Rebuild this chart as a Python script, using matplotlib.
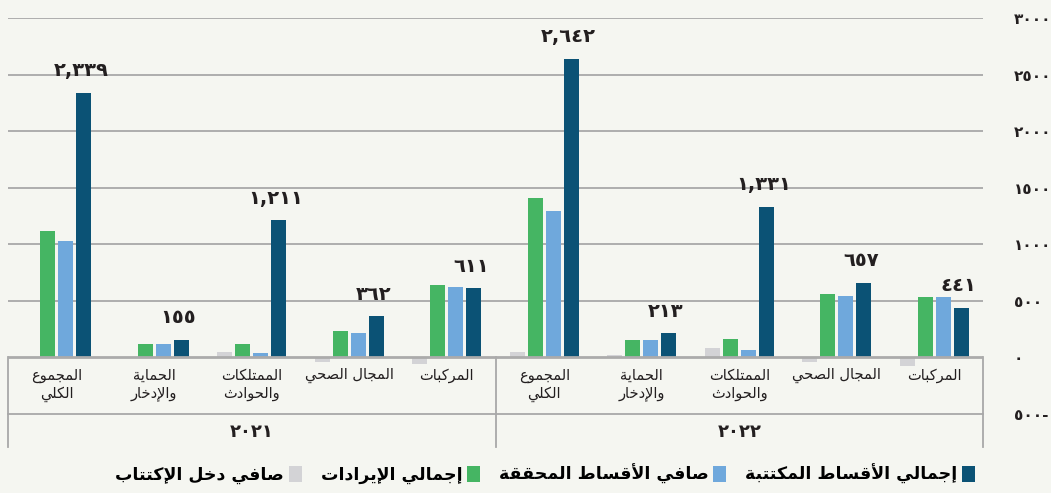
import matplotlib
matplotlib.use("Agg")
import matplotlib.pyplot as plt
from matplotlib.patches import Patch
from matplotlib.ticker import FuncFormatter
import numpy as np

# ── Data ───────────────────────────────────────────────
years = ["٢٠٢١", "٢٠٢٢"]
categories = ["المجموع\nالكلي", "الحماية\nوالإدخار", "الممتلكات\nوالحوادث",
              "المجال الصحي", "المركبات"]

series_names = ["صافي دخل الإكتتاب", "إجمالي الإيرادات",
                "صافي الأقساط المحققة", "إجمالي الأقساط المكتتبة"]

net_uw_income = [0, 0, 49, -37, -55,
                 49, 22, 84, -37, -72]
total_revenue = [1118, 119, 119, 234, 641,
                 1409, 155, 163, 561, 530]
net_earned = [1029, 119, 40, 216, 623,
              1294, 155, 66, 543, 530]
gross_written = [2339, 155, 1211, 362, 611,
                 2642, 213, 1331, 657, 441]

yticks = [-500, 0, 500, 1000, 1500, 2000, 2500, 3000]

# ── Style ──────────────────────────────────────────────
BG = "#f5f6f1"
COLORS = ["#d3d3d6", "#45b563", "#6fa8dc", "#0b5275"]
GRID = "#a8a8a8"
TXT = "#231f20"

AR_DIGITS = str.maketrans("0123456789", "٠١٢٣٤٥٦٧٨٩")

# minimal Arabic shaping (matplotlib has no complex text layout)
FORMS = {
    "ء": (0xFE80, 1), "آ": (0xFE81, 2), "أ": (0xFE83, 2), "ؤ": (0xFE85, 2),
    "إ": (0xFE87, 2), "ئ": (0xFE89, 4), "ا": (0xFE8D, 2), "ب": (0xFE8F, 4),
    "ة": (0xFE93, 2), "ت": (0xFE95, 4), "ث": (0xFE99, 4), "ج": (0xFE9D, 4),
    "ح": (0xFEA1, 4), "خ": (0xFEA5, 4), "د": (0xFEA9, 2), "ذ": (0xFEAB, 2),
    "ر": (0xFEAD, 2), "ز": (0xFEAF, 2), "س": (0xFEB1, 4), "ش": (0xFEB5, 4),
    "ص": (0xFEB9, 4), "ض": (0xFEBD, 4), "ط": (0xFEC1, 4), "ظ": (0xFEC5, 4),
    "ع": (0xFEC9, 4), "غ": (0xFECD, 4), "ف": (0xFED1, 4), "ق": (0xFED5, 4),
    "ك": (0xFED9, 4), "ل": (0xFEDD, 4), "م": (0xFEE1, 4), "ن": (0xFEE5, 4),
    "ه": (0xFEE9, 4), "و": (0xFEED, 2), "ى": (0xFEEF, 2), "ي": (0xFEF1, 4),
}
LAM_ALEF = {"آ": 0xFEF5, "أ": 0xFEF7, "إ": 0xFEF9, "ا": 0xFEFB}


def shape_line(s):
    toks = []
    i = 0
    while i < len(s):
        ch = s[i]
        if ch == "ل" and i + 1 < len(s) and s[i + 1] in LAM_ALEF:
            toks.append((LAM_ALEF[s[i + 1]], 2))
            i += 2
            continue
        if ch in FORMS:
            toks.append(FORMS[ch])
        else:
            toks.append((ch, 0))
        i += 1
    out = []
    for k, (base, n) in enumerate(toks):
        if n == 0:
            out.append(base)
            continue
        prev = toks[k - 1] if k > 0 else (None, 0)
        nxt = toks[k + 1] if k + 1 < len(toks) else (None, 0)
        jp = n >= 2 and prev[1] == 4
        jn = n == 4 and nxt[1] >= 2
        if jp and jn:
            idx = 3
        elif jp:
            idx = 1
        elif jn:
            idx = 2
        else:
            idx = 0
        out.append(chr(base + idx))
    return "".join(out)[::-1]


def ar(s):
    return "\n".join(shape_line(line) for line in s.split("\n"))


def ar_num(v, sep=True):
    s = (f"{abs(int(v)):,}" if sep else str(abs(int(v)))).translate(AR_DIGITS)
    return s + "-" if v < 0 else s


plt.rcParams["font.family"] = ["DejaVu Sans"]

fig = plt.figure(figsize=(10.51, 4.93), dpi=100, facecolor=BG)
# plot area: x 8..983 px, y 18..414 px (3000 .. -500)
ax = fig.add_axes([8 / 1051, (493 - 414) / 493, 975 / 1051, 396 / 493])
ax.set_facecolor(BG)

n_cat = len(categories) * len(years)
x = np.arange(n_cat)
bw = 0.154
step = 0.185
all_series = [net_uw_income, total_revenue, net_earned, gross_written]
for j, vals in enumerate(all_series):
    ax.bar(x + (j - 1.5) * step, vals, width=bw, color=COLORS[j], zorder=3)

# value labels over gross written premiums
for xi, v in zip(x, gross_written):
    ax.annotate(ar_num(v), (xi + 1.5 * step, v), xytext=(-2, 12),
                textcoords="offset points", ha="center", va="baseline",
                fontsize=14, fontweight="bold", color=TXT)

ax.set_xlim(-0.5, n_cat - 0.5)
ax.set_ylim(-500, 3000)

for y in yticks[2:]:
    ax.axhline(y, color=GRID, lw=1.3, zorder=1)
ax.axhline(0, color="#ababab", lw=2, zorder=4)

# category table below the axis
ax.plot([-0.5, n_cat - 0.5], [-500, -500], color=GRID, lw=1.3, clip_on=False)
for xv in [-0.5, 4.5, 9.5]:
    ax.plot([xv, xv], [0, -790], color=GRID, lw=1.3, clip_on=False)

for xi in x:
    ax.text(xi, -95, ar(categories[xi % len(categories)]), ha="center",
            va="top", fontsize=10.5, color=TXT, linespacing=1.2)
for k, yr in enumerate(years):
    ax.text(2 + 5 * k, -660, yr, ha="center", va="center", fontsize=13,
            fontweight="bold", color=TXT, clip_on=False)

ax.set_xticks([])
ax.yaxis.tick_right()
ax.set_yticks(yticks)
ax.yaxis.set_major_formatter(FuncFormatter(lambda v, p: ar_num(v, sep=False)))
ax.tick_params(axis="y", length=0, pad=22, labelsize=11, labelcolor=TXT)
for lab in ax.get_yticklabels():
    lab.set_fontweight("bold")
for sp in ax.spines.values():
    sp.set_visible(False)

handles = [Patch(facecolor=c, edgecolor="none") for c in COLORS]
fig.legend(handles, [ar(s) for s in series_names], ncol=4, markerfirst=False,
           loc="center", bbox_to_anchor=(545 / 1051, 1 - 474 / 493),
           frameon=False, handlelength=0.75, handleheight=1.0,
           handletextpad=0.25, columnspacing=1.1,
           prop={"weight": "bold", "size": 12.5})

fig.savefig("out.png", dpi=100, facecolor=BG)
